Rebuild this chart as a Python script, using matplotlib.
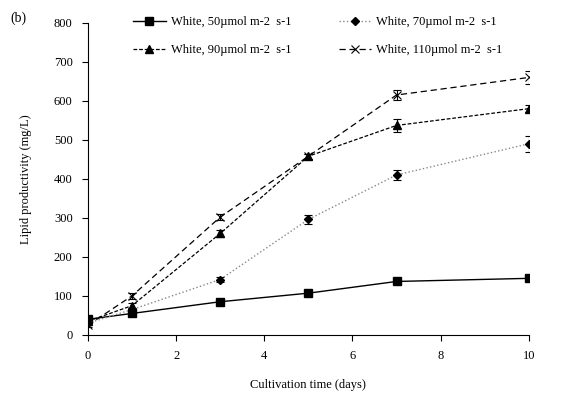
import matplotlib.pyplot as plt

plt.rcParams['font.family'] = ['Liberation Serif', 'DejaVu Serif']

days = [0, 1, 3, 5, 7, 10]
labels = ['White, 50\u00b5mol m-2  s-1', 'White, 70\u00b5mol m-2  s-1',
          'White, 90\u00b5mol m-2  s-1', 'White, 110\u00b5mol m-2  s-1']
w50 = [40, 55, 85, 107, 137, 145]
w70 = [30, 65, 142, 296, 410, 490]
w90 = [35, 75, 260, 458, 537, 580]
w110 = [25, 100, 302, 458, 615, 660]
e50 = [5, 5, 6, 6, 6, 6]
e70 = [5, 5, 6, 12, 13, 20]
e90 = [5, 6, 10, 6, 16, 9]
e110 = [5, 8, 8, 6, 12, 16]

fig = plt.figure(figsize=(5.71, 3.94), dpi=100)
ax = fig.add_axes([0.154, 0.150, 0.772, 0.792])

# error bars
for y, e in [(w50, e50), (w70, e70), (w90, e90), (w110, e110)]:
    ax.errorbar(days, y, yerr=e, fmt='none', ecolor='black', capsize=3,
                elinewidth=0.8, capthick=0.8)

l1, = ax.plot(days, w50, color='black', marker='s', ms=6, ls='-', lw=1.0)
l2, = ax.plot(days, w70, color='#888888', marker='D', ms=4, ls=':', lw=1.0,
              mfc='black', mec='black')
l3, = ax.plot(days, w90, color='black', marker='^', ms=6, ls=(0, (3, 1.5)), lw=0.9)
l4, = ax.plot(days, w110, color='black', marker='x', ms=6, ls=(0, (5, 3)), lw=0.9, mew=0.8)

ax.set_xlim(0, 10)
ax.set_ylim(0, 800)
ax.set_xticks([0, 2, 4, 6, 8, 10])
ax.set_yticks(range(0, 801, 100))
ax.spines['top'].set_visible(False)
ax.spines['right'].set_visible(False)
ax.tick_params(direction='out', labelsize=9, length=4, width=0.8, pad=7)
ax.set_xlabel('Cultivation time (days)', fontsize=9, labelpad=12)
ax.set_ylabel('Lipid productivity (mg/L)', fontsize=9, labelpad=16)

fig.legend([l1, l3, l2, l4], [labels[0], labels[2], labels[1], labels[3]], ncol=2,
           frameon=False, fontsize=9, loc='upper left', bbox_to_anchor=(0.222, 0.975),
           borderpad=0, columnspacing=3.8, handlelength=2.6, handletextpad=0.4,
           labelspacing=1.3)

fig.text(0.018, 0.945, '(b)', fontsize=10)

fig.savefig('out.png', dpi=100)
